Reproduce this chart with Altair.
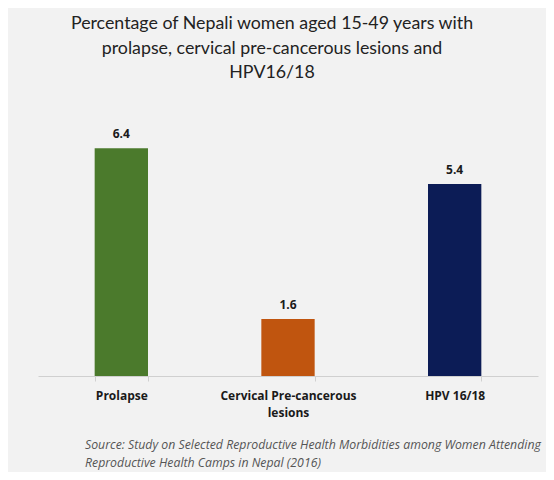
import altair as alt
import pandas as pd

categories = ["Prolapse", "Cervical Pre-cancerous lesions", "HPV 16/18"]
values = [6.4, 1.6, 5.4]
colors = ["#4b7a2c", "#c0550f", "#0c1c56"]
title_lines = [
    "Percentage of Nepali women aged 15-49 years with",
    "prolapse, cervical pre-cancerous lesions and",
    "HPV16/18",
]
source_lines = [
    "Source: Study on Selected Reproductive Health Morbidities among Women Attending",
    "Reproductive Health Camps in Nepal (2016)",
]

df = pd.DataFrame({"cat": categories, "value": values, "color": colors})

label_expr = (
    "datum.value == 'Cervical Pre-cancerous lesions' ? "
    "['Cervical Pre-cancerous', 'lesions'] : datum.value"
)

x = alt.X(
    "cat:N",
    sort=categories,
    scale=alt.Scale(paddingInner=0.68, paddingOuter=0.34),
    axis=alt.Axis(
        title=None,
        labelAngle=0,
        labelExpr=label_expr,
        labelFont="Open Sans",
        labelFontWeight="bold",
        labelFontSize=12,
        labelColor="#1a1a1a",
        labelPadding=9,
        labelLineHeight=17,
        domainColor="#d0d0d0",
        tickColor="#d0d0d0",
        tickBand="extent",
        tickSize=5,
    ),
)
y = alt.Y("value:Q", scale=alt.Scale(domain=[0, 7]), axis=None)

bars = alt.Chart(df).mark_bar().encode(
    x=x, y=y, color=alt.Color("color:N", scale=None)
)
labels = alt.Chart(df).mark_text(
    dy=-14, font="Open Sans", fontWeight="bold", fontSize=12, color="#1a1a1a"
).encode(x=x, y=y, text=alt.Text("value:Q", format=".1f"))

source = alt.Chart(df).transform_filter("datum.cat == 'Prolapse'").mark_text(
    align="left", baseline="middle", font="Open Sans", fontStyle="italic",
    fontSize=12.3, color="#555555", lineHeight=18,
).encode(
    x=alt.value(47),
    y=alt.value(318),
    text=alt.value(source_lines),
)

chart = alt.layer(bars, labels, source).properties(
    width=500,
    height=249,
    autosize=alt.AutoSizeParams(type="none"),
    padding={"left": 30, "top": 119, "right": 8, "bottom": 96},
    background="#f2f2f2",
    title=alt.TitleParams(
        text=title_lines,
        font="Lato",
        fontSize=17.8,
        fontWeight="normal",
        color="#222222",
        anchor="middle",
        dx=-16,
        offset=45,
        lineHeight=24.5,
    ),
).configure_view(stroke=None)

chart.save("out.html", embed_options={"renderer": "svg", "actions": False})
